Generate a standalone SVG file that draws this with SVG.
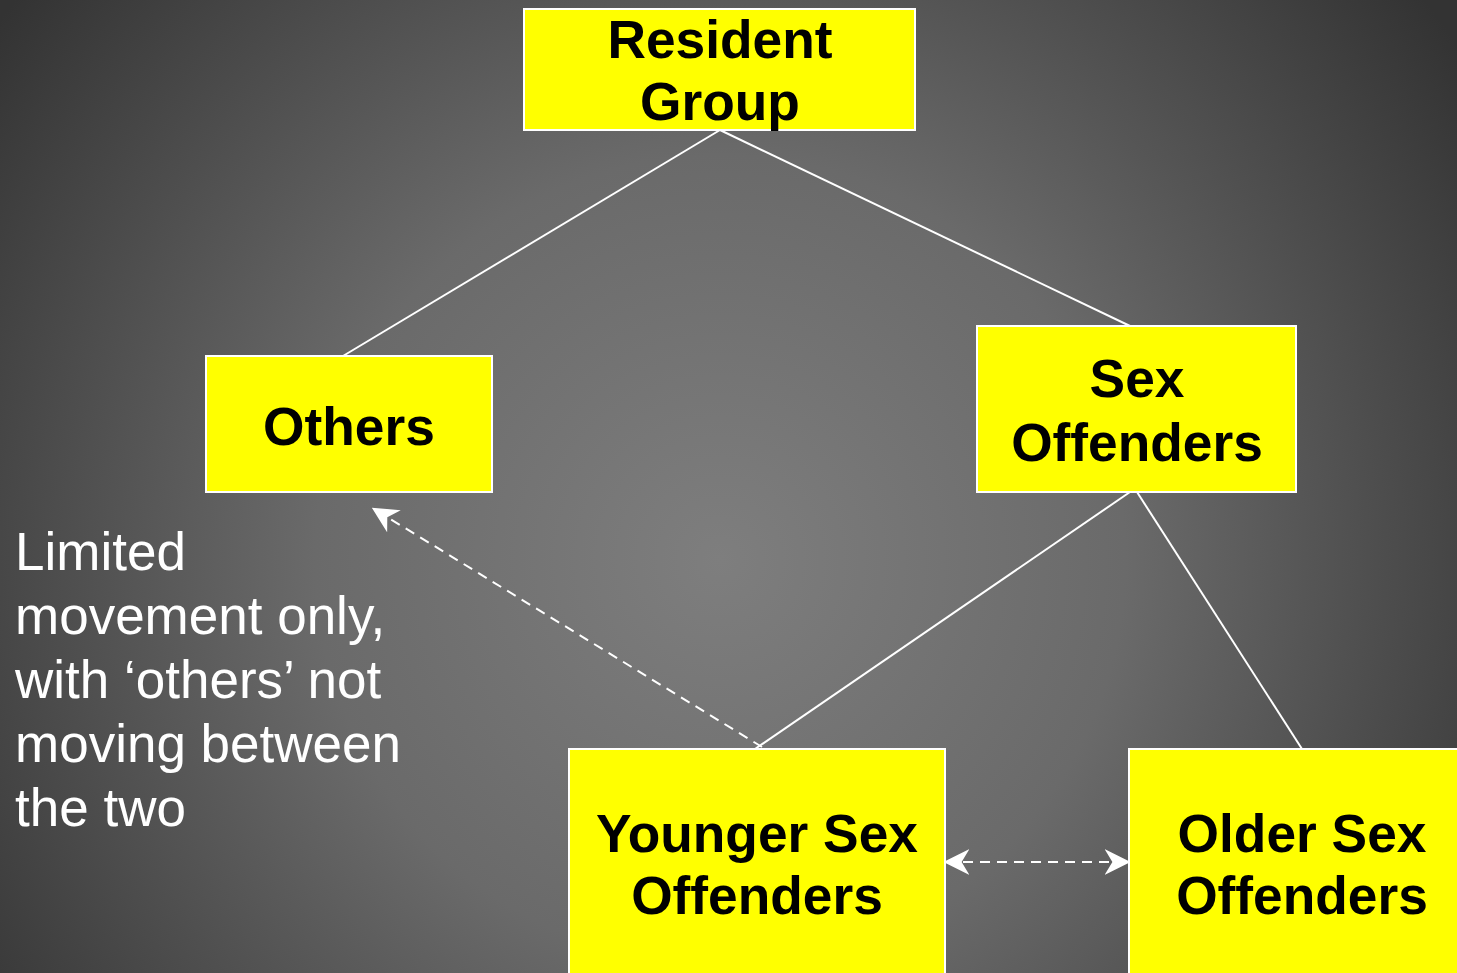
<svg xmlns="http://www.w3.org/2000/svg" width="1457" height="973" viewBox="0 0 1457 973">
<style>
.box{fill:#ffff00;stroke:#ffffff;stroke-width:2}
.lbl{font-family:"Liberation Sans",Arial,sans-serif;font-weight:bold;font-size:53.3px;fill:#000;text-anchor:middle}
.note{font-family:"Liberation Sans",Arial,sans-serif;font-size:53px;fill:#fff}
.ln{stroke:#fff;stroke-width:2;fill:none}
.dash{stroke:#fff;stroke-width:2;fill:none;stroke-dasharray:10 7}
</style>
<defs>
<radialGradient id="bg" cx="720" cy="560" r="900" gradientUnits="userSpaceOnUse">
<stop offset="0" stop-color="#7e7e7e"/>
<stop offset="0.45" stop-color="#6a6a6a"/>
<stop offset="1" stop-color="#333333"/>
</radialGradient>
<marker id="ah" viewBox="0 0 20 20" refX="18" refY="10" markerWidth="26" markerHeight="26" markerUnits="userSpaceOnUse" orient="auto-start-reverse">
<path d="M0,0 L20,10 L0,20 L6,10 Z" fill="#fff"/>
</marker>
</defs>
<rect width="1457" height="973" fill="url(#bg)"/>
<g id="connectors">
<line class="ln" x1="720" y1="130" x2="343" y2="356"/>
<line class="ln" x1="720" y1="130" x2="1130" y2="326"/>
<line class="ln" x1="1130" y1="492" x2="755" y2="749"/>
<line class="ln" x1="1137" y1="492" x2="1302" y2="749"/>
<line class="dash" x1="762" y1="747" x2="374" y2="509" marker-end="url(#ah)"/>
<line class="dash" x1="946" y1="862" x2="1128" y2="862" marker-start="url(#ah)" marker-end="url(#ah)"/>
</g>
<g id="resident">
<rect class="box" x="524" y="9" width="391" height="121"/>
<text class="lbl" x="720" y="58">Resident</text>
<text class="lbl" x="720" y="120">Group</text>
</g>
<g id="others">
<rect class="box" x="206" y="356" width="286" height="136"/>
<text class="lbl" x="349" y="445">Others</text>
</g>
<g id="sexoffenders">
<rect class="box" x="977" y="326" width="319" height="166"/>
<text class="lbl" x="1137" y="397">Sex</text>
<text class="lbl" x="1137" y="461">Offenders</text>
</g>
<g id="younger">
<rect class="box" x="569" y="749" width="376" height="240"/>
<text class="lbl" x="757" y="852">Younger Sex</text>
<text class="lbl" x="757" y="914">Offenders</text>
</g>
<g id="older">
<rect class="box" x="1129" y="749" width="346" height="240"/>
<text class="lbl" x="1302" y="852">Older Sex</text>
<text class="lbl" x="1302" y="914">Offenders</text>
</g>
<g id="note">
<text class="note" x="15" y="570">Limited</text>
<text class="note" x="15" y="634">movement only,</text>
<text class="note" x="15" y="698">with ‘others’ not</text>
<text class="note" x="15" y="762">moving between</text>
<text class="note" x="15" y="826">the two</text>
</g>
</svg>
